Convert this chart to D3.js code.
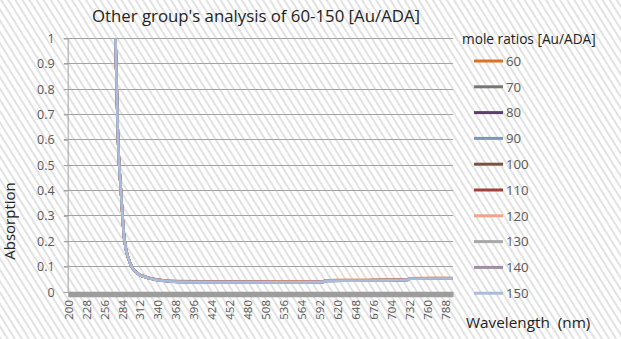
<!DOCTYPE html>
<html><head><meta charset="utf-8">
<script src="https://cdn.jsdelivr.net/npm/d3@7/dist/d3.min.js"></script>
<style>
html,body{margin:0;padding:0;background:#fff;}
svg{display:block;font-family:"Open Sans","Noto Sans",sans-serif;}
</style></head>
<body>
<svg id="chart" width="621" height="339"></svg>
<script>
// ---- data ----
const title = "Other group's analysis of 60-150 [Au/ADA]";
const legendTitle = "mole ratios [Au/ADA]";
const seriesNames = ["60","70","80","90","100","110","120","130","140","150"];
const seriesColors = ["#d9732a","#767676","#5e3f6a","#7f96b8","#7a5242","#a3403c","#f2a486","#a8a8a8","#9f8ea2","#aabcd9"];
const wavelengths = [270, 274, 278, 282.5, 288, 297, 308, 326, 345, 370, 420, 500, 560, 598, 602, 650, 700, 729, 733, 770, 800];
const base150 = [1.2, 1.0, 0.6, 0.4, 0.205, 0.113, 0.074, 0.054, 0.045, 0.040, 0.038, 0.038, 0.038, 0.039, 0.044, 0.045, 0.046, 0.047, 0.052, 0.053, 0.053];
const s60  = [1.2, 1.0, 0.6, 0.4, 0.206, 0.114, 0.075, 0.056, 0.047, 0.043, 0.042, 0.041, 0.041, 0.042, 0.046, 0.047, 0.048, 0.049, 0.054, 0.055, 0.055];
const s70  = [1.2, 1.0, 0.6, 0.4, 0.205, 0.113, 0.074, 0.054, 0.045, 0.040, 0.039, 0.039, 0.039, 0.040, 0.044, 0.045, 0.046, 0.047, 0.052, 0.053, 0.053];
const s80  = [1.2, 1.0, 0.6, 0.4, 0.205, 0.113, 0.074, 0.055, 0.046, 0.041, 0.040, 0.040, 0.039, 0.040, 0.045, 0.046, 0.047, 0.048, 0.053, 0.054, 0.054];
const s90  = [1.2, 1.0, 0.6, 0.4, 0.205, 0.113, 0.074, 0.054, 0.045, 0.040, 0.038, 0.038, 0.038, 0.039, 0.044, 0.045, 0.046, 0.047, 0.052, 0.053, 0.053];
const s100 = [1.2, 1.0, 0.6, 0.4, 0.206, 0.114, 0.075, 0.055, 0.046, 0.042, 0.041, 0.041, 0.040, 0.041, 0.046, 0.046, 0.047, 0.048, 0.053, 0.054, 0.054];
const s110 = [1.2, 1.0, 0.6, 0.4, 0.205, 0.113, 0.074, 0.055, 0.046, 0.041, 0.040, 0.039, 0.039, 0.040, 0.045, 0.046, 0.047, 0.048, 0.053, 0.054, 0.054];
const s120 = [1.2, 1.0, 0.6, 0.4, 0.206, 0.114, 0.075, 0.056, 0.047, 0.042, 0.041, 0.041, 0.041, 0.041, 0.046, 0.047, 0.048, 0.049, 0.054, 0.055, 0.055];
const s130 = [1.2, 1.0, 0.6, 0.4, 0.205, 0.113, 0.074, 0.054, 0.045, 0.040, 0.039, 0.038, 0.038, 0.039, 0.044, 0.045, 0.046, 0.047, 0.052, 0.053, 0.053];
const s140 = [1.2, 1.0, 0.6, 0.4, 0.205, 0.113, 0.074, 0.055, 0.046, 0.041, 0.040, 0.040, 0.039, 0.040, 0.045, 0.046, 0.047, 0.048, 0.053, 0.054, 0.054];
const seriesValues = [s60, s70, s80, s90, s100, s110, s120, s130, s140, base150];
const xTickLabels = [200,228,256,284,312,340,368,396,424,452,480,508,536,564,592,620,648,676,704,732,760,788];
const yTicks = [0,0.1,0.2,0.3,0.4,0.5,0.6,0.7,0.8,0.9,1];

// ---- layout ----
const svg = d3.select("#chart");
const W = 621, H = 339;
const pLeft = 67.7, pRight = 453, pTop = 38.3, pBottom = 292;
const textCol = "#595959", gridCol = "#a3a3a3";

// background stripes
const defs = svg.append("defs");
const pat = defs.append("pattern").attr("id","stripes").attr("patternUnits","userSpaceOnUse")
  .attr("width",6).attr("height",6).attr("patternTransform","rotate(-32)");
pat.append("rect").attr("width",6).attr("height",6).attr("fill","#ffffff");
pat.append("rect").attr("x",0).attr("width",2).attr("height",6).attr("fill","#e2e2e2");
svg.append("rect").attr("width",W).attr("height",H).attr("fill","url(#stripes)");
defs.append("clipPath").attr("id","plotclip").append("rect")
  .attr("x",pLeft).attr("y",pTop).attr("width",pRight-pLeft).attr("height",pBottom-pTop+3);

const x = d3.scaleLinear().domain([199.5, 800.5]).range([pLeft, pRight]);
const y = d3.scaleLinear().domain([0, 1]).range([pBottom, pTop]);

// title
svg.append("text").attr("x",256).attr("y",22).attr("text-anchor","middle")
  .attr("font-size",16.8).attr("fill","#222").text(title);

// gridlines
svg.append("g").selectAll("line").data(yTicks.filter(d=>d>0)).join("line")
  .attr("x1",pLeft-4).attr("x2",pRight).attr("y1",d=>y(d)).attr("y2",d=>y(d))
  .attr("stroke",gridCol).attr("stroke-width",1).attr("shape-rendering","crispEdges");

// y axis
const yAxis = svg.append("g").attr("transform",`translate(${pLeft},0)`)
  .call(d3.axisLeft(y).tickValues(yTicks).tickSize(4).tickFormat(d3.format("~g")));
yAxis.select(".domain").attr("stroke",gridCol);
yAxis.selectAll(".tick line").attr("stroke",gridCol);
yAxis.selectAll("text").attr("font-size",12.5).attr("fill",textCol).attr("font-family","Open Sans").attr("x",-13);

// series lines
const line = d3.line().x((d,i)=>x(wavelengths[i])).y(d=>y(d)).curve(d3.curveMonotoneX);
svg.append("g").attr("clip-path","url(#plotclip)").selectAll("path").data(seriesValues).join("path")
  .attr("d",d=>line(d)).attr("fill","none")
  .attr("stroke",(d,i)=>seriesColors[i]).attr("stroke-width",2.6).attr("stroke-linejoin","round");

// x axis
const xAxis = svg.append("g").attr("transform",`translate(0,${pBottom+2})`)
  .call(d3.axisBottom(x).tickValues(xTickLabels).tickSize(0).tickFormat(d3.format("d")));
xAxis.select(".domain").attr("stroke","#9d9d9d").attr("stroke-width",5.5);
xAxis.selectAll("text").attr("font-size",11.5).attr("fill",textCol).attr("font-family","Open Sans")
  .attr("transform","rotate(-90)").attr("text-anchor","end").attr("x",-6).attr("y",0).attr("dy","0.36em");

// axis titles
svg.append("text").attr("transform","translate(15,221) rotate(-90)").attr("text-anchor","middle")
  .attr("font-size",15).attr("fill","#222").text("Absorption");
svg.append("text").attr("x",466).attr("y",328).attr("font-size",15.3).attr("fill","#222")
  .style("white-space","pre").text("Wavelength  (nm)");

// legend
svg.append("text").attr("x",462).attr("y",44).attr("font-size",13.7).attr("fill","#222").text(legendTitle);
const lg = svg.append("g").selectAll("g").data(seriesNames).join("g")
  .attr("transform",(d,i)=>`translate(0,${61 + i*25.8})`);
lg.append("line").attr("x1",474).attr("x2",503).attr("y1",0).attr("y2",0)
  .attr("stroke",(d,i)=>seriesColors[i]).attr("stroke-width",3);
lg.append("text").attr("x",506).attr("y",0).attr("dy","0.36em").attr("font-size",13.2)
  .attr("fill",textCol).text(d=>d);
</script>
</body></html>
